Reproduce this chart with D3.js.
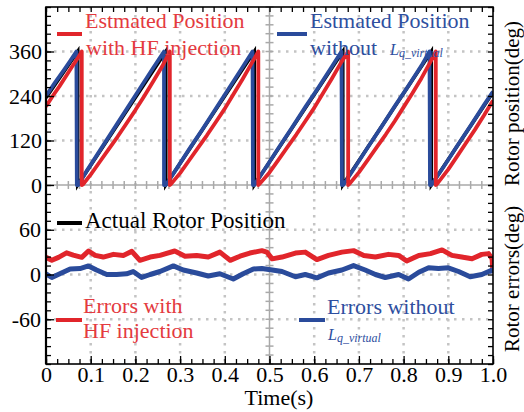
<!DOCTYPE html>
<html>
<head>
<meta charset="utf-8">
<script src="https://cdn.jsdelivr.net/npm/d3@7"></script>
<style>
  html, body { margin: 0; padding: 0; background: #fff; }
  svg { display: block; font-family: "Liberation Serif", "DejaVu Serif", serif; }
</style>
</head>
<body>
<div id="container"></div>
<script>
// time ticks
var xMajor = [0, 0.1, 0.2, 0.3, 0.4, 0.5, 0.6, 0.7, 0.8, 0.9, 1.0];
var xMinor = d3.range(0, 1.0001, 0.025);
var posMajor = [0, 120, 240, 360];
var posMinor = d3.range(0, 481, 24);
var errMajor = [-60, 0, 60];
var errMinor = d3.range(-120, 121, 12);

// rotor position (deg) vs time (s)
var posActual = [[0,235],[0.071,360],[0.071,0],[0.268,360],[0.268,0],[0.466,360],[0.466,0],
  [0.664,360],[0.664,0],[0.862,360],[0.862,0],[1.0,250]];

var posNoLq = [[0,240],[0.02,276],[0.04,310],[0.055,336],[0.068,360],[0.069,0],[0.072,0],
  [0.09,36],[0.12,92],[0.15,148],[0.18,204],[0.21,260],[0.24,316],[0.264,360],[0.264,0],[0.268,0],
  [0.29,40],[0.32,96],[0.35,150],[0.38,206],[0.41,262],[0.44,318],[0.462,360],[0.463,0],[0.466,0],
  [0.49,44],[0.52,100],[0.55,154],[0.58,210],[0.61,264],[0.64,320],[0.661,360],[0.662,0],[0.665,0],
  [0.69,46],[0.72,102],[0.75,156],[0.78,212],[0.81,266],[0.84,322],[0.858,360],[0.859,0],[0.862,0],
  [0.89,50],[0.92,106],[0.95,160],[0.98,216],[1.0,252]];

var posHF = [[0,212],[0.015,240],[0.03,266],[0.045,294],[0.06,322],[0.072,344],[0.080,360],[0.080,0],
  [0.083,2],[0.10,28],[0.12,62],[0.14,96],[0.16,130],[0.18,166],[0.20,202],[0.22,240],[0.24,280],[0.26,320],[0.277,360],[0.277,0],
  [0.28,3],[0.30,32],[0.32,66],[0.34,100],[0.36,134],[0.38,170],[0.40,206],[0.42,246],[0.44,286],[0.46,328],[0.475,360],[0.475,0],
  [0.478,3],[0.50,34],[0.52,68],[0.54,102],[0.56,136],[0.58,172],[0.60,208],[0.62,248],[0.64,288],[0.66,330],[0.676,360],[0.676,0],
  [0.679,3],[0.70,34],[0.72,68],[0.74,102],[0.76,136],[0.78,172],[0.80,210],[0.82,248],[0.84,288],[0.86,332],[0.872,360],[0.872,0],
  [0.875,3],[0.90,42],[0.92,78],[0.94,114],[0.96,150],[0.98,188],[1.0,228]];

// rotor errors (deg) vs time (s)
var errHF = [[0,23],[0.013,19],[0.028,23],[0.046,29],[0.061,26],[0.080,23],[0.095,31.5],[0.110,25.6],
  [0.128,23.4],[0.151,27],[0.173,25.6],[0.192,31],[0.210,19],[0.233,23.4],[0.255,25.6],[0.288,31.5],
  [0.311,24.5],[0.337,25.6],[0.363,23.4],[0.389,30],[0.412,19],[0.434,24.5],[0.456,28.8],[0.483,32],
  [0.494,30],[0.506,21],[0.528,23.4],[0.558,28.8],[0.580,30],[0.606,20],[0.632,25.6],[0.662,30],
  [0.688,32],[0.711,25.6],[0.737,23.4],[0.766,27],[0.789,25.6],[0.807,18],[0.834,25.6],[0.860,28],
  [0.886,33],[0.908,25.6],[0.930,23.4],[0.953,21],[0.975,27],[0.990,28],[0.998,21],[1.0,2]];

var errNoLq = [[0,1],[0.013,-4],[0.031,1],[0.054,7.4],[0.076,8],[0.095,11.5],[0.113,6],[0.136,0],
  [0.158,0],[0.180,1],[0.195,4],[0.214,-4],[0.233,0],[0.255,4],[0.285,11.5],[0.307,6],[0.337,2],
  [0.363,-2],[0.389,1],[0.419,-6],[0.441,1],[0.464,7.4],[0.483,8],[0.506,6],[0.528,4],[0.558,-3],
  [0.580,0],[0.606,-4.5],[0.632,2],[0.662,6],[0.688,12],[0.714,6],[0.737,0],[0.759,-4],[0.789,0],
  [0.811,-6],[0.834,3],[0.856,9],[0.878,8],[0.900,9],[0.923,4],[0.949,-3],[0.975,0],[0.998,6],[1.0,2]];

var RED = "#e1252b", BLUE = "#2a4b9b", RED_T = "#e43a40", BLUE_T = "#2e4f9f";
var FS = 22;

var width = 524, height = 412;
var pLeft = 46, pRight = 493, pTop = 7, pMid = 185, pBottom = 364;

var x = d3.scaleLinear().domain([0, 1]).range([pLeft, pRight]);
var yPos = d3.scaleLinear().domain([0, 480]).range([pMid, pTop]);
var yErr = d3.scaleLinear().domain([-120, 120]).range([pBottom, pMid]);

var svg = d3.select("#container").append("svg")
    .attr("width", width)
    .attr("height", height);

svg.append("defs").append("clipPath").attr("id", "plotclip")
    .append("rect").attr("x", pLeft).attr("y", pTop)
    .attr("width", pRight - pLeft).attr("height", pBottom - pTop);

// dotted grid
var grid = svg.append("g")
    .attr("stroke", "#c4c4c4")
    .attr("stroke-width", 2.5)
    .attr("stroke-dasharray", "2.5,5.5");

grid.selectAll("line.vx")
    .data(xMajor.filter(function (d) { return d > 0 && d < 1 && d !== 0.5; }))
    .enter().append("line")
    .attr("x1", function (d) { return x(d); })
    .attr("x2", function (d) { return x(d); })
    .attr("y1", pTop).attr("y2", pBottom);

grid.selectAll("line.hp")
    .data([120, 240, 360])
    .enter().append("line")
    .attr("x1", pLeft).attr("x2", pRight)
    .attr("y1", function (d) { return yPos(d); })
    .attr("y2", function (d) { return yPos(d); });

grid.selectAll("line.he")
    .data(errMajor)
    .enter().append("line")
    .attr("x1", pLeft).attr("x2", pRight)
    .attr("y1", function (d) { return yErr(d); })
    .attr("y2", function (d) { return yErr(d); });

// gray cross lines (panel split and t = 0.5)
var cross = svg.append("g").attr("stroke", "#a9a9a9").attr("stroke-width", 1.5);
cross.append("line").attr("x1", pLeft).attr("x2", pRight).attr("y1", yPos(0)).attr("y2", yPos(0));
cross.selectAll("line.ct")
    .data(xMinor)
    .enter().append("line")
    .attr("x1", function (d) { return x(d); })
    .attr("x2", function (d) { return x(d); })
    .attr("y1", yPos(0) - 4).attr("y2", yPos(0) + 4);
cross.append("line").attr("x1", x(0.5)).attr("x2", x(0.5)).attr("y1", pTop).attr("y2", pBottom);
cross.selectAll("line.cp")
    .data(posMinor)
    .enter().append("line")
    .attr("x1", x(0.5) - 4).attr("x2", x(0.5) + 4)
    .attr("y1", function (d) { return yPos(d); })
    .attr("y2", function (d) { return yPos(d); });
cross.selectAll("line.ce")
    .data(errMinor)
    .enter().append("line")
    .attr("x1", x(0.5) - 4).attr("x2", x(0.5) + 4)
    .attr("y1", function (d) { return yErr(d); })
    .attr("y2", function (d) { return yErr(d); });

// data lines
var plot = svg.append("g").attr("clip-path", "url(#plotclip)");
var linePos = d3.line().x(function (d) { return x(d[0]); }).y(function (d) { return yPos(d[1]); });
var lineErr = d3.line().x(function (d) { return x(d[0]); }).y(function (d) { return yErr(d[1]); });

plot.append("path").datum(posActual).attr("d", linePos)
    .attr("fill", "none").attr("stroke", "#000").attr("stroke-width", 3.5);
plot.append("path").datum(posNoLq).attr("d", linePos)
    .attr("fill", "none").attr("stroke", BLUE).attr("stroke-width", 3.8).attr("stroke-linejoin", "round");
plot.append("path").datum(posHF).attr("d", linePos)
    .attr("fill", "none").attr("stroke", RED).attr("stroke-width", 3.8).attr("stroke-linejoin", "round");

plot.append("path").datum(errHF).attr("d", lineErr)
    .attr("fill", "none").attr("stroke", RED).attr("stroke-width", 5).attr("stroke-linejoin", "round");
plot.append("path").datum(errNoLq).attr("d", lineErr)
    .attr("fill", "none").attr("stroke", BLUE).attr("stroke-width", 5).attr("stroke-linejoin", "round");

// axes
function styleAxis(g) {
    g.select(".domain").remove();
    g.selectAll(".tick line").attr("stroke", "#000").attr("stroke-width", 1.3);
    g.selectAll(".tick text").attr("fill", "#000")
        .style("font-family", "'Liberation Serif', serif").style("font-size", FS + "px");
}

svg.append("g").attr("transform", "translate(" + pLeft + ",0)")
    .call(d3.axisLeft(yPos).tickValues(posMinor).tickSize(-5).tickFormat(""))
    .call(styleAxis);
svg.append("g").attr("transform", "translate(" + pLeft + ",0)")
    .call(d3.axisLeft(yPos).tickValues(posMajor).tickSize(-8).tickPadding(4).tickFormat(String))
    .call(styleAxis);
svg.append("g").attr("transform", "translate(" + pLeft + ",0)")
    .call(d3.axisLeft(yErr).tickValues(errMinor.filter(function (d) { return d < 120; })).tickSize(-5).tickFormat(""))
    .call(styleAxis);
svg.append("g").attr("transform", "translate(" + pLeft + ",0)")
    .call(d3.axisLeft(yErr).tickValues(errMajor).tickSize(-8).tickPadding(5).tickFormat(String))
    .call(styleAxis);

svg.append("g").attr("transform", "translate(" + pRight + ",0)")
    .call(d3.axisRight(yPos).tickValues(posMinor).tickSize(-5).tickFormat(""))
    .call(styleAxis);
svg.append("g").attr("transform", "translate(" + pRight + ",0)")
    .call(d3.axisRight(yErr).tickValues(errMinor).tickSize(-5).tickFormat(""))
    .call(styleAxis);

svg.append("g").attr("transform", "translate(0," + pTop + ")")
    .call(d3.axisTop(x).tickValues(xMinor).tickSize(-5).tickFormat(""))
    .call(styleAxis);
svg.append("g").attr("transform", "translate(0," + pBottom + ")")
    .call(d3.axisBottom(x).tickValues(xMinor).tickSize(-5).tickFormat(""))
    .call(styleAxis);
svg.append("g").attr("transform", "translate(0," + pBottom + ")")
    .call(d3.axisBottom(x).tickValues(xMajor).tickSize(-8).tickPadding(2)
        .tickFormat(function (d) { return d === 0 ? "0" : d3.format(".1f")(d); }))
    .call(styleAxis);

// frame
svg.append("rect")
    .attr("x", pLeft).attr("y", pTop)
    .attr("width", pRight - pLeft).attr("height", pBottom - pTop)
    .attr("fill", "none").attr("stroke", "#000").attr("stroke-width", 1.6);
svg.append("line").attr("x1", pLeft).attr("x2", pLeft).attr("y1", pTop).attr("y2", pBottom)
    .attr("stroke", "#000").attr("stroke-width", 2.2);

// axis titles
svg.append("text")
    .attr("x", 279).attr("y", 405)
    .attr("text-anchor", "middle")
    .style("font-size", FS + "px")
    .text("Time(s)");

svg.append("text")
    .attr("transform", "translate(519," + (pMid + 1) + ") rotate(-90)")
    .style("font-size", "21px")
    .text("Rotor position(deg)");

svg.append("text")
    .attr("transform", "translate(519,352) rotate(-90)")
    .style("font-size", "21px")
    .text("Rotor errors(deg)");

// legends
function legLine(x1, x2, y, color) {
    svg.append("line").attr("x1", x1).attr("x2", x2).attr("y1", y).attr("y2", y)
        .attr("stroke", color).attr("stroke-width", 4);
}
function legText(tx, ty, color, str, fs) {
    return svg.append("text").attr("x", tx).attr("y", ty)
        .attr("fill", color).style("font-size", (fs || FS) + "px").text(str);
}
function lqText(tx, ty, color, fs, subfs) {
    var t = svg.append("text").attr("x", tx).attr("y", ty).attr("fill", color)
        .style("font-style", "italic");
    t.append("tspan").style("font-size", fs + "px").text("L");
    t.append("tspan").attr("dy", 2).style("font-size", subfs + "px").text("q_virtual");
    return t;
}

legLine(57, 82, 34, RED);
legText(85, 28, RED_T, "Estmated Position");
legText(86, 55, RED_T, "with HF injection");

legLine(277, 307, 34, BLUE);
legText(310, 28, BLUE_T, "Estmated Position");
legText(310, 55, BLUE_T, "without");
lqText(390, 55, BLUE_T, 16, 12);

legLine(57, 82, 223, "#000");
legText(85, 228, "#000", "Actual Rotor Position", 23);

legLine(56, 82, 320, RED);
legText(83, 313, RED_T, "Errors with");
legText(83, 338, RED_T, "HF injection");

legLine(299, 325, 320, BLUE);
legText(327, 314, BLUE_T, "Errors without");
lqText(328, 340, BLUE_T, 16, 12);
</script>
</body>
</html>
